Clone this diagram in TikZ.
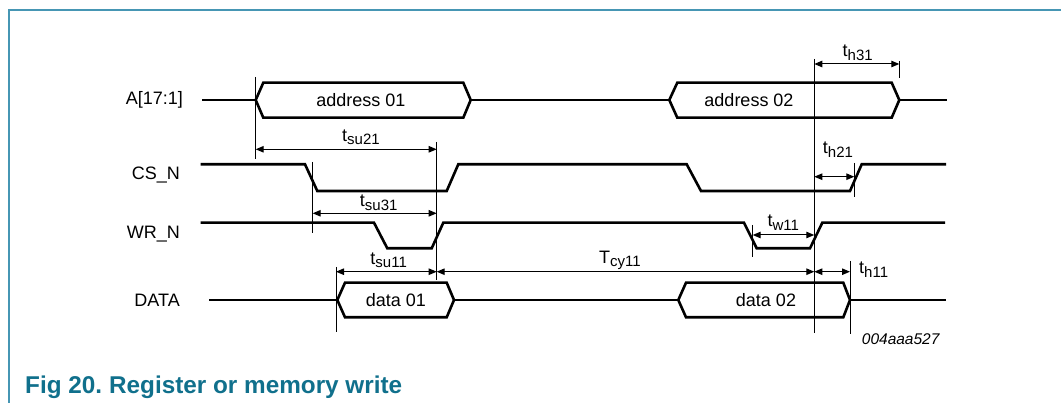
\documentclass[tikz,border=0pt]{standalone}
\usepackage{fontspec}
\setmainfont{Liberation Sans}
\usetikzlibrary{arrows.meta}
\definecolor{frameblue}{RGB}{70,150,180}
\definecolor{captionblue}{RGB}{16,112,140}
\newcommand{\tsub}[2]{#1\raisebox{-3.5pt}{\fontsize{15}{15}\selectfont #2}}
\begin{document}
\begin{tikzpicture}[x=1pt,y=-1pt,
  sig/.style={line width=2.6pt, line join=miter},
  thinline/.style={line width=1pt},
  dimarrow/.style={line width=1pt, {Triangle[length=8pt,width=6.5pt]}-{Triangle[length=8pt,width=6.5pt]}},
  lbl/.style={font=\fontsize{18}{20}\selectfont, inner sep=0pt},
  tlab/.style={font=\fontsize{18}{20}\selectfont, inner sep=0pt, anchor=south},
  frame/.style={line width=1.3pt, draw=frameblue}
]
\useasboundingbox (0,0) rectangle (1061,403);

% frame
\coordinate (fTL) at (9,10);
\coordinate (fTR) at (1061,10);
\coordinate (fBL) at (9,403);
\draw[frame] (fBL) -- (fTL) -- (fTR);

% signal names
\node[lbl, anchor=east] (nA) at (183,100) {A[17:1]};
\node[lbl, anchor=east] (nCS) at (180,175.5) {CS\_N};
\node[lbl, anchor=east] (nWR) at (180,234) {WR\_N};
\node[lbl, anchor=east] (nD) at (180,300) {DATA};

% A[17:1]
\draw[sig] (202,100) -- (255.7,100);
\draw[sig] (255.7,100) -- (263.3,82.7) -- (463.3,82.7) -- (470.7,100) -- (463.3,117.7) -- (263.3,117.7) -- cycle;
\draw[sig] (470.7,100) -- (669.3,100);
\draw[sig] (669.3,100) -- (677.3,82.7) -- (891.7,82.7) -- (899.3,100) -- (891.7,117.7) -- (677.3,117.7) -- cycle;
\draw[sig] (899.3,100) -- (946.7,100);
\node[lbl] (ad1) at (361,100) {address 01};
\node[lbl] (ad2) at (749,100) {address 02};

% CS_N
\draw[sig] (200.7,164.3) -- (305,164.3) -- (317.3,191) -- (446.7,191) -- (458.3,164.3) -- (686.7,164.3) -- (701,191) -- (850,191) -- (861.7,164.3) -- (946,164.3);

% WR_N
\draw[sig] (200.7,222.7) -- (374,222.7) -- (387.3,248.3) -- (431.7,248.3) -- (443.3,222.7) -- (744,222.7) -- (756.7,248.3) -- (810,248.3) -- (822.3,222.7) -- (945,222.7);

% DATA
\draw[sig] (209,300) -- (337.3,300);
\draw[sig] (337.3,300) -- (345,282.7) -- (446.7,282.7) -- (454,300) -- (446.7,317.3) -- (345,317.3) -- cycle;
\draw[sig] (454,300) -- (678.3,300);
\draw[sig] (678.3,300) -- (686,282.7) -- (843.3,282.7) -- (850,300) -- (843.3,317.3) -- (686,317.3) -- cycle;
\draw[sig] (850,300) -- (945.7,300);
\node[lbl] (d1) at (396,300) {data 01};
\node[lbl] (d2) at (766,300) {data 02};

% reference lines
\coordinate (v1t) at (255.7,77);   \coordinate (v1b) at (255.7,159);
\coordinate (v2t) at (436.7,142);  \coordinate (v2b) at (436.7,280);
\coordinate (v3t) at (312.7,162);  \coordinate (v3b) at (312.7,233);
\coordinate (v4t) at (336,267);    \coordinate (v4b) at (336,332);
\coordinate (v5t) at (814.3,59);   \coordinate (v5b) at (814.3,333);
\coordinate (v6t) at (899.3,61);   \coordinate (v6b) at (899.3,78);
\coordinate (v7t) at (854.3,163);  \coordinate (v7b) at (854.3,197);
\coordinate (v8t) at (752.7,225);  \coordinate (v8b) at (752.7,257);
\coordinate (v9t) at (850,261);    \coordinate (v9b) at (850,334);
\foreach \v in {1,...,9} {\draw[thinline] (v\v t) -- (v\v b);}

% dimension end points
\coordinate (h31a) at (814.3,64);    \coordinate (h31b) at (899.3,64);
\coordinate (su21a) at (255.7,149.3); \coordinate (su21b) at (436.7,149.3);
\coordinate (h21a) at (814.3,176.7); \coordinate (h21b) at (854.3,176.7);
\coordinate (su31a) at (312.7,213.3); \coordinate (su31b) at (436.7,213.3);
\coordinate (w11a) at (752.7,235);   \coordinate (w11b) at (814.3,235);
\coordinate (su11a) at (336,271.7);  \coordinate (su11b) at (436.7,271.7);
\coordinate (cy11b) at (814.3,271.7);
\coordinate (h11b) at (850,271.7);

\draw[dimarrow] (h31a) -- (h31b);
\draw[dimarrow] (su21a) -- (su21b);
\draw[dimarrow] (h21a) -- (h21b);
\draw[dimarrow] (su31a) -- (su31b);
\draw[dimarrow] (w11a) -- (w11b);
\draw[dimarrow] (su11a) -- (su11b);
\draw[dimarrow] (su11b) -- (cy11b);
\draw[dimarrow] (cy11b) -- (h11b);

% timing labels
\node[tlab] (lh31) at (857.7,60.7) {\tsub{t}{h31}};
\node[tlab] (lsu21) at (361,145) {\tsub{t}{su21}};
\node[tlab] (lh21) at (838,157.3) {\tsub{t}{h21}};
\node[tlab] (lsu31) at (378.7,210.5) {\tsub{t}{su31}};
\node[tlab] (lw11) at (783.3,230.5) {\tsub{t}{w11}};
\node[tlab] (lsu11) at (388.7,268.3) {\tsub{t}{su11}};
\node[tlab] (lcy11) at (620,270) {\tsub{T}{cy11}};
\node[lbl, anchor=west] (lh11) at (859,269.5) {\tsub{t}{h11}};

% figure id
\node[inner sep=0pt, anchor=base west, font=\itshape\fontsize{15.5}{17}\selectfont] (fid) at (861.7,345) {004aaa527};

% caption
\node[inner sep=0pt, anchor=base west, text=captionblue, font=\bfseries\fontsize{24.3}{27}\selectfont] (cap) at (25,393.3) {Fig 20.\hspace{7pt}Register or memory write};
\end{tikzpicture}
\end{document}
